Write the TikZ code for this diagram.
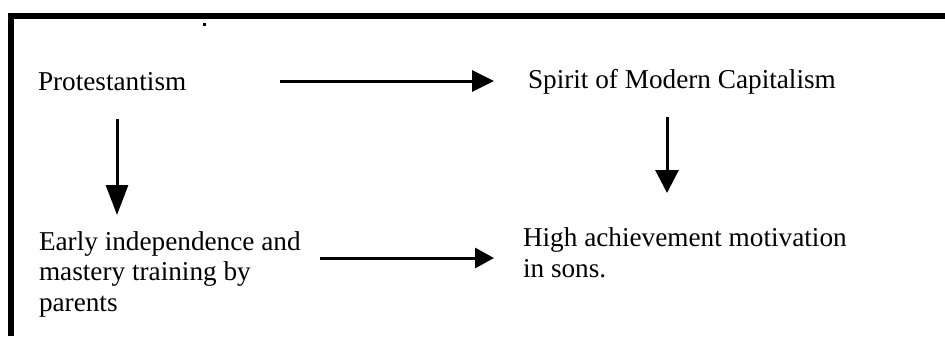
\documentclass[tikz,border=0pt]{standalone}
\usepackage{fontspec}
\setmainfont{Liberation Serif}
\usepackage{tikz}
\usetikzlibrary{arrows.meta, calc, positioning}

\begin{document}
\begin{tikzpicture}[
  x=0.02cm, y=-0.02cm,
  font=\fontsize{15.5}{17.1}\selectfont,
  item/.style={inner sep=0pt, outer sep=0pt, anchor=base west, align=left},
  arrow/.style={line width=0.06cm, -{Triangle[length=0.44cm, width=0.42cm]}},
  frame/.style={line width=0.12cm, line join=miter}
]
\useasboundingbox (0,0) rectangle (945,336);

% Frame
\draw[frame] (11,336) -- (11,16) -- (945,16);
\fill (203,23) rectangle (206,26);

% Top row
\node[item] (prot) at (38,90) {Protestantism};
\node[item] (spirit) at (528,88) {Spirit of Modern Capitalism};

% Bottom row (base is the last line)
\node[item] (early) at (39,311) {Early independence and\\mastery training by\\parents};
\node[item] (high) at (523,277) {High achievement motivation\\in sons.};

% Arrows
\draw[arrow] ($(prot.base west)+(242,-9)$) -- ($(spirit.base west)+(-34,-7)$);
\draw[arrow, -{Triangle[length=0.6cm, width=0.44cm]}] ($(prot.base west)+(79,29)$) -- ($(early.base west)+(78,-96)$);
\draw[arrow, -{Triangle[length=0.46cm, width=0.46cm]}] ($(spirit.base west)+(139,29)$) -- ($(high.base west)+(144,-84)$);
\draw[arrow, -{Triangle[length=0.38cm, width=0.4cm]}] ($(early.base west)+(281,-53)$) -- ($(high.base west)+(-29,-19)$);

\end{tikzpicture}
\end{document}
